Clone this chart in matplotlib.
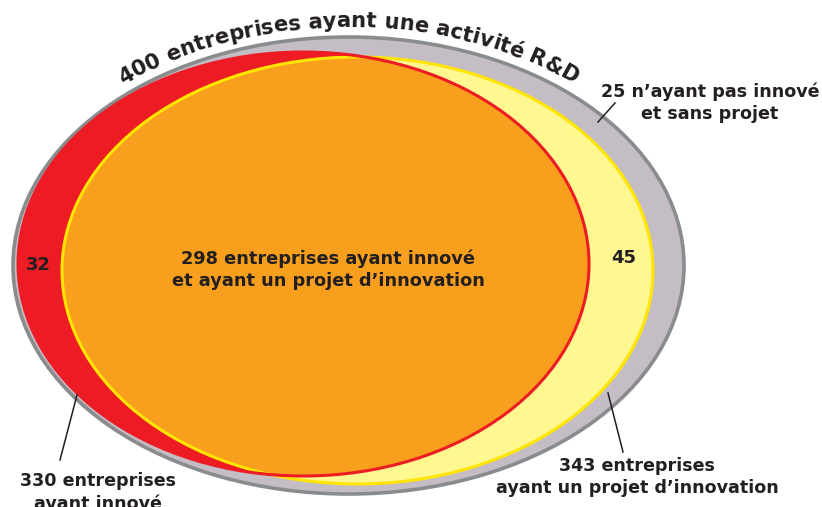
import numpy as np
import matplotlib
matplotlib.use("Agg")
import matplotlib.pyplot as plt
from matplotlib.patches import Ellipse
from matplotlib.font_manager import FontProperties

# ---- data ----
total_rd = 400
no_innov_no_project = 25
innovated = 330
with_project = 343
both = 298
innov_only = 32
project_only = 45

title_text = f"{total_rd} entreprises ayant une activité R&D"
label_none = f"{no_innov_no_project} n’ayant pas innové\net sans projet"
label_innov = f"{innovated} entreprises\nayant innové"
label_proj = f"{with_project} entreprises\nayant un projet d’innovation"
label_both = f"{both} entreprises ayant innové\net ayant un projet d’innovation"

# ---- style ----
C_GRAY_FILL = "#c5bdc6"
C_GRAY_EDGE = "#8a8b8d"
C_RED = "#ed1c24"
C_ORANGE = "#f8a01d"
C_LYELLOW = "#fff78f"
C_YELLOW = "#ffe500"
C_TEXT = "#231f20"

W, H = 822, 507
fig = plt.figure(figsize=(W / 100, H / 100), dpi=100)
ax = fig.add_axes([0, 0, 1, 1])
ax.set_xlim(0, W)
ax.set_ylim(H, 0)
ax.axis("off")

# geometry (pixel coords)
gray = dict(c=(348.5, 265.5), a=335.5, b=228.5)
red = dict(c=(303.5, 264.0), a=285.5, b=212.0)
yel = dict(c=(357.5, 270.5), a=295.5, b=213.5)

def ell(g, **kw):
    return Ellipse(g["c"], 2 * g["a"], 2 * g["b"], **kw)

ax.add_patch(ell(gray, facecolor=C_GRAY_FILL, edgecolor=C_GRAY_EDGE, lw=2.6, zorder=1))
ax.add_patch(ell(red, facecolor=C_RED, edgecolor="none", zorder=2))
yel_fill = ell(yel, facecolor=C_LYELLOW, edgecolor="none", zorder=3)
ax.add_patch(yel_fill)
orange = ell(red, facecolor=C_ORANGE, edgecolor="none", zorder=4)
ax.add_patch(orange)
orange.set_clip_path(yel_fill)
ax.add_patch(ell(yel, facecolor="none", edgecolor=C_YELLOW, lw=2.2, zorder=5))
ax.add_patch(ell(red, facecolor="none", edgecolor=C_RED, lw=2.2, zorder=6))

# ---- curved title ----
fig.canvas.draw()
renderer = fig.canvas.get_renderer()
ref_size = 20
fp_ref = FontProperties(family="DejaVu Sans", weight="bold", size=ref_size)

def adv(ch, fp):
    w1 = renderer.get_text_width_height_descent("|" + ch + "|", fp, ismath=False)[0]
    w0 = renderer.get_text_width_height_descent("||", fp, ismath=False)[0]
    return w1 - w0

widths_ref = np.array([adv(c, fp_ref) for c in title_text])
off = 10
A, B = gray["a"] + off, gray["b"] + off
cx, cy = gray["c"]
x_start, x_end = 123, 574
t0 = np.arccos((x_start - cx) / A)
t1 = np.arccos((x_end - cx) / A)
ts = np.linspace(t0, t1, 4000)
xs = cx + A * np.cos(ts)
ys = cy - B * np.sin(ts)
seg = np.hypot(np.diff(xs), np.diff(ys))
s = np.concatenate([[0], np.cumsum(seg)])
L = s[-1]
scale = L / widths_ref.sum()
fs = ref_size * scale
widths = widths_ref * scale
pos = np.cumsum(widths) - widths / 2
for ch, p in zip(title_text, pos):
    t = np.interp(p, s, ts)
    x = cx + A * np.cos(t)
    y = cy - B * np.sin(t)
    rot = np.degrees(np.arctan2(-B * np.cos(t), A * np.sin(t)))
    ax.text(x, y, ch, fontsize=fs, fontweight="heavy", family="DejaVu Sans",
            color=C_TEXT, ha="center", va="baseline", rotation=rot,
            rotation_mode="anchor", zorder=10)

# ---- labels ----
tk = dict(fontweight="bold", family="DejaVu Sans", color=C_TEXT, zorder=10,
          ha="center", linespacing=1.3)
ax.text(328, 270, label_both, fontsize=12.8, va="center", **tk)
ax.text(38, 265, str(innov_only), fontsize=13, va="center", **tk)
ax.text(624, 258, str(project_only), fontsize=13, va="center", **tk)
ax.text(710, 103, label_none, fontsize=12.6, va="center", **tk)
ax.text(98, 472, label_innov, fontsize=12.6, va="top", **tk)
ax.text(637, 457, label_proj, fontsize=12.6, va="top", **tk)

# leader lines
lk = dict(color=C_TEXT, lw=1.1, zorder=9)
ax.plot([598, 615], [122, 103], **lk)
ax.plot([77, 60], [395, 460], **lk)
ax.plot([608, 623], [393, 452], **lk)

fig.savefig("out.png", dpi=100)
